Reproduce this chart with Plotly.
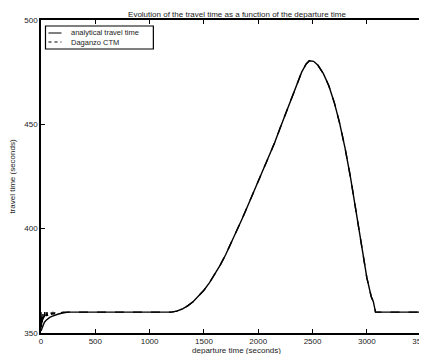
import plotly.graph_objects as go

# ---- data ----
# analytical travel time (seconds) vs departure time (seconds)
analytic_time = [0, 15, 30, 45, 60, 80, 100, 130, 160, 200, 250,
                 1200, 1250, 1300, 1350, 1400, 1450, 1500, 1550, 1600, 1650,
                 1700, 1750, 1800, 1850, 1900, 1950, 2000, 2050, 2100, 2150,
                 2200, 2250, 2300, 2350, 2400, 2440, 2470, 2510, 2550, 2600,
                 2650, 2700, 2750, 2800, 2850, 2900, 2950, 3000, 3040, 3060,
                 3080, 3600]
analytic_tt = [351.0, 353.5, 355.0, 356.0, 356.8, 357.5, 358.0, 358.6, 359.1, 359.6, 360.0,
               360.0, 360.5, 361.5, 363.0, 365.0, 367.5, 370.5, 374.0, 378.0, 382.5,
               387.5, 393.0, 398.5, 404.5, 410.5, 416.5, 422.5, 428.5, 434.5, 441.0,
               448.0, 455.0, 462.0, 469.0, 475.0, 478.8, 480.5, 480.2, 478.3, 474.3,
               468.5, 460.5, 450.5, 438.5, 424.5, 408.5, 391.5, 376.5, 367.5, 365.0,
               360.0, 360.0]

# Daganzo CTM: noisy start, then follows the analytical curve
ctm_early_time = [0, 4, 8, 12, 16, 20, 25, 30, 35, 40, 45, 50, 55, 60, 70, 80,
                  90, 100, 110, 120, 130, 140, 150, 160, 170, 180, 190, 200]
ctm_early_tt = [360.0, 352.0, 359.5, 355.0, 360.0, 356.5, 359.5, 357.0, 360.0, 357.5,
                359.5, 358.0, 360.0, 358.2, 359.8, 358.5, 360.0, 358.8, 359.8, 359.0,
                360.0, 359.2, 359.8, 359.4, 360.0, 359.5, 359.8, 360.0]
ctm_time = ctm_early_time + analytic_time[11:]
ctm_tt = ctm_early_tt + analytic_tt[11:]

x_ticks = [0, 500, 1000, 1500, 2000, 2500, 3000, 3500]
y_ticks = [350, 400, 450, 500]

FONT = "Liberation Sans, Arial, Helvetica, sans-serif"
OFF = 8  # page body margin shifts the figure by 8px right and down

fig = go.Figure()
fig.add_trace(go.Scatter(x=analytic_time, y=analytic_tt, mode="lines",
                         name="analytical travel time",
                         line=dict(color="black", width=1.4)))
fig.add_trace(go.Scatter(x=ctm_time, y=ctm_tt, mode="lines",
                         name="Daganzo CTM",
                         line=dict(color="black", width=1.4, dash="dash")))

axis_common = dict(showgrid=False, zeroline=False, showline=True,
                   linecolor="black", linewidth=1.6, ticks="inside",
                   ticklen=4, tickwidth=1, tickcolor="black",
                   tickfont=dict(family=FONT, size=8, color="#222"))

L, R, T, B = 40.5 - OFF, 3, 20 - OFF, 354 - (333 - OFF)
fig.update_layout(
    width=427, height=354,
    margin=dict(l=L, r=R, t=T, b=B),
    paper_bgcolor="white", plot_bgcolor="white",
    showlegend=False,
    title=dict(text="Evolution of the travel time as a function of the departure time",
               font=dict(family=FONT, size=8, color="#222"),
               x=(237 - OFF) / 427, xanchor="center",
               y=1 - (14 - OFF) / 354, yanchor="middle",
               xref="container", yref="container"),
    xaxis=dict(range=[0, 3600], tickvals=x_ticks, mirror="ticks",
               title=dict(text="departure time (seconds)", standoff=2,
                          font=dict(family=FONT, size=8, color="#222")),
               automargin=False, **axis_common),
    yaxis=dict(range=[350, 500], tickvals=y_ticks, mirror=False,
               title=dict(text="travel time (seconds)", standoff=8,
                          font=dict(family=FONT, size=8, color="#222")),
               automargin=False, **axis_common),
)

# legend box drawn by hand to match the original compact MATLAB legend
PW = 427 - L - R
PH = 354 - T - B

def px(xs):
    return (xs - OFF - L) / PW

def py(ys):
    return ((354 - B) - (ys - OFF)) / PH

fig.add_shape(type="rect", xref="paper", yref="paper",
              x0=px(45), x1=px(153), y0=py(49), y1=py(26),
              line=dict(color="black", width=1.2), fillcolor="white")
fig.add_shape(type="line", xref="paper", yref="paper",
              x0=px(48), x1=px(61), y0=py(33), y1=py(33),
              line=dict(color="black", width=1))
fig.add_shape(type="line", xref="paper", yref="paper",
              x0=px(48), x1=px(61), y0=py(42), y1=py(42),
              line=dict(color="black", width=1, dash="3px,3px"))
for name, ypix in [("analytical travel time", 33), ("Daganzo CTM", 42)]:
    fig.add_annotation(text=name, xref="paper", yref="paper",
                       x=px(69), y=py(ypix), xanchor="left", yanchor="middle",
                       showarrow=False,
                       font=dict(family=FONT, size=7.5, color="#222"))

fig.write_html("out.html")
